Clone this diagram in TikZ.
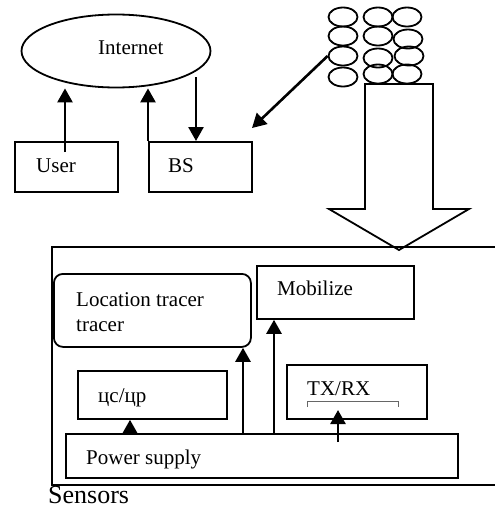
\documentclass[tikz,border=0pt]{standalone}
\usepackage{fontspec}
\setmainfont{Liberation Serif}
\usetikzlibrary{shapes.geometric, arrows.meta}
\tikzset{
    box/.style={draw, line width=1.8pt, anchor=north west, inner sep=0pt},
    cell/.style={draw, ellipse, line width=1.8pt, minimum width=29pt, minimum height=19pt, inner sep=0pt},
    txt/.style={anchor=base west, inner sep=0pt, font=\fontsize{21}{25}\selectfont},
    arr/.style={line width=2.6pt, -{Triangle[length=14pt,width=15pt]}},
}

\begin{document}
\begin{tikzpicture}[x=1pt, y=-1pt]
    \useasboundingbox (0,0) rectangle (495,517);

    % Red exterior
    \node[draw, ellipse, line width=1.8pt, minimum width=189pt, minimum height=73pt] (internet) at (116,51) {};
    \node[txt] (internettxt) at (98,54) {Internet};

    \node[box, minimum width=103pt, minimum height=50pt] (user) at (14,141) {};
    \node[txt] (usertxt) at (36,172) {User};
    \node[box, minimum width=103pt, minimum height=50pt] (bs) at (148,141) {};
    \node[txt] (bstxt) at (168,172) {BS};

    % Nube de sensores
    \foreach \name/\x/\y in {e11/343/17, e12/378/17, e13/407/17,
                             e21/343/36, e22/378/36, e23/408/39,
                             e31/343/56, e32/378/58, e33/409/56,
                             e41/343/77, e42/378/74, e43/407/74}
        \node[cell] (\name) at (\x,\y) {};

    \coordinate (userfoot) at (65,152);
    \coordinate (inetout) at (196,77);
    \coordinate (bshit) at (252,128);
    \draw[arr] (userfoot) -- (userfoot |- internet.south);
    \draw[arr] (bs.north west) -- (bs.north west |- internet.south);
    \draw[arr] (inetout) -- (inetout |- bs.north);
    \draw[arr] (e31.west) -- (bshit);

    % Flecha grande hueca
    \coordinate (shaftL) at (365,84);
    \coordinate (shaftR) at (433,84);
    \coordinate (tip) at (399,250);
    \draw[line width=1.8pt] (shaftL) -- (shaftR) -- (433,209) -- (469,209)
        -- (tip) -- (329,209) -- (365,209) -- cycle;

    % Nodo sensor
    \draw[line width=1.8pt] (495,247) -- (52,247) -- (52,485) -- (495,485);
    \node[txt, font=\fontsize{26}{30}\selectfont] (sensors) at (48,503) {Sensors};

    \node[box, rounded corners=9pt, minimum width=197pt, minimum height=73pt] (loc) at (53,273) {};
    \node[txt] (loctxt1) at (76,306) {Location tracer};
    \node[txt] (loctxt2) at (76,331) {tracer};

    \node[box, minimum width=157pt, minimum height=53pt] (mob) at (256,265) {};
    \node[txt] (mobtxt) at (277,295) {Mobilize};

    \node[box, minimum width=149pt, minimum height=48pt] (muc) at (77,370) {};
    \node[txt] (muctxt) at (98,402) {цс/цр};

    \node[box, minimum width=140pt, minimum height=54pt] (tx) at (286,364) {};
    \node[txt] (txtxt) at (307,395) {TX/RX};
    \draw[black!60, line width=1pt] (307,407) -- (307,401) -- (398,401) -- (398,407);

    \node[box, minimum width=392pt, minimum height=44pt] (power) at (65,433) {};
    \node[txt] (powertxt) at (86,464) {Power supply};

    \coordinate (p1) at (130,433);
    \coordinate (p2) at (243,433);
    \coordinate (p3) at (274,433);
    \coordinate (p4) at (338,442);
    \coordinate (txin) at (338,410);
    \draw[arr] (p1) -- (p1 |- muc.south);
    \draw[arr] (p2) -- (p2 |- loc.south);
    \draw[arr] (p3) -- (p3 |- mob.south);
    \draw[arr] (p4) -- (txin);
\end{tikzpicture}
\end{document}
